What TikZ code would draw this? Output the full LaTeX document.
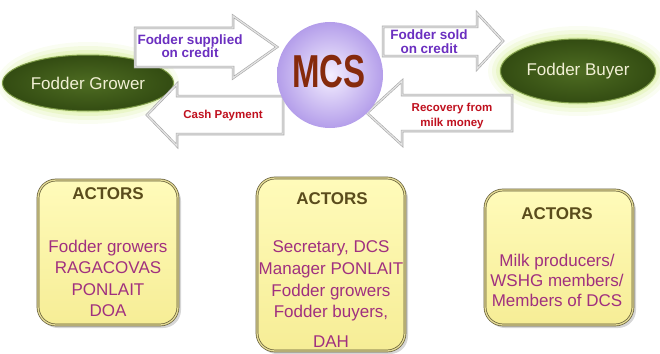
\documentclass[tikz,border=0pt]{standalone}
\usepackage{fontspec}
\setmainfont{Liberation Sans}
\usetikzlibrary{shapes.geometric}

\definecolor{glowc}{HTML}{D6EE96}
\definecolor{oliveIn}{HTML}{4E6C22}
\definecolor{oliveOut}{HTML}{334C12}
\definecolor{oliveRim}{HTML}{7E9C48}
\definecolor{lavIn}{HTML}{F4EFFF}
\definecolor{lavOut}{HTML}{B49EEA}
\definecolor{mcstxt}{HTML}{862A0C}
\definecolor{purpletxt}{HTML}{6B2FC0}
\definecolor{redtxt}{HTML}{C0101E}
\definecolor{magtxt}{HTML}{A0307F}
\definecolor{actorstxt}{HTML}{5A4C1C}
\definecolor{boxTop}{HTML}{FFFBBA}
\definecolor{boxBot}{HTML}{F6ED96}
\definecolor{boxEdge}{HTML}{615A35}
\definecolor{boxInner}{HTML}{E4DB96}

\begin{document}
\begin{tikzpicture}[x=1pt,y=-1pt,
  party/.style={ellipse, shade, inner color=oliveIn, outer color=oliveOut,
    draw=oliveRim, line width=1pt, text=white!88!olive,
    font=\fontsize{17}{17}\selectfont},
  hub/.style={circle, shade, inner color=lavIn, outer color=lavOut,
    minimum size=106pt, inner sep=0pt},
  flow/.style={fill=white, draw=gray!70, line width=0.6pt,
    double=gray!22, double distance=1.3pt, line join=miter},
  flowpurple/.style={anchor=base, text=purpletxt,
    font=\fontsize{13.5}{13.5}\selectfont\bfseries},
  flowred/.style={anchor=base, text=redtxt,
    font=\fontsize{11.5}{11.5}\selectfont\bfseries},
  actorbox/.style={rounded corners=18pt, top color=boxTop, bottom color=boxBot,
    draw=boxEdge, line width=0.7pt, double=boxInner, double distance=1.3pt},
  boxshadow/.style={fill=black, opacity=0.16, rounded corners=18pt},
  title/.style={anchor=base, text=actorstxt,
    font=\fontsize{17}{17}\selectfont\bfseries},
  itm/.style={anchor=base, text=magtxt, font=\fontsize{17}{17}\selectfont}]

\useasboundingbox (0,0) rectangle (660,353);

% soft halos behind the two parties
\foreach \g/\o in {13/0.12, 9/0.2, 5/0.3, 2/0.4} {
  \fill[glowc, opacity=\o] (88,83) ellipse [x radius=78+\g, y radius=28+\g];
  \fill[glowc, opacity=\o] (578,71) ellipse [x radius=77+\g, y radius=32+\g];
}

% parties and the society in between
\node[party, minimum width=156pt, minimum height=56pt] (grower) at (88,83) {Fodder Grower};
\node[party, minimum width=154pt, minimum height=64pt] (buyer) at (578,71) {Fodder Buyer};

% block arrows: supply and payment flows
\draw[flow] (135,28) -- (233,28) -- (233,16) -- (277,47) -- (233,78)
  -- (233,67) -- (135,67) -- cycle;
\draw[flow] (283,96) -- (177,96) -- (177,84) -- (147,115) -- (177,146)
  -- (177,134) -- (283,134) -- cycle;
\draw[flow] (383,27) -- (477,27) -- (477,13) -- (503,41) -- (477,69)
  -- (477,56) -- (383,56) -- cycle;
\draw[flow] (512,95) -- (402,95) -- (402,81) -- (367,113) -- (402,145)
  -- (402,131) -- (512,131) -- cycle;

\node[hub] (mcs) at (330,75) {};
\node[text=mcstxt] (mcslabel) at (329,72)
  {\scalebox{1}[1.4]{\fontsize{33}{33}\selectfont\bfseries MCS}};

% flow labels
\node[flowpurple] (supA) at (190,44.5) {Fodder supplied};
\node[flowpurple] (supB) at (190,57.5) {on credit};
\node[flowred] (cash) at (223,118) {Cash Payment};
\node[flowpurple] (soldA) at (429,40) {Fodder sold};
\node[flowpurple] (soldB) at (429,53) {on credit};
\node[flowred] (recA) at (452,111) {Recovery from};
\node[flowred] (recB) at (452,126) {milk money};

% actor boxes
\fill[boxshadow] (40,183) rectangle (181,328);
\fill[boxshadow] (259,181) rectangle (408,354);
\fill[boxshadow] (487,193) rectangle (636,328);
\draw[actorbox] (38,180) rectangle (178,325);
\draw[actorbox] (257,178) rectangle (405,351);
\draw[actorbox] (485,190) rectangle (633,325);

\node[title] (t1) at (108,199) {ACTORS};
\node[itm] (a1) at (108,252) {Fodder growers};
\node[itm] (a2) at (108,273) {RAGACOVAS};
\node[itm] (a3) at (108,295) {PONLAIT};
\node[itm] (a4) at (108,316) {DOA};

\node[title] (t2) at (332,204) {ACTORS};
\node[itm] (b1) at (331,252) {Secretary, DCS};
\node[itm] (b2) at (331,274) {Manager PONLAIT};
\node[itm] (b3) at (331,296) {Fodder growers};
\node[itm] (b4) at (331,317) {Fodder buyers,};
\node[itm] (b5) at (331,347) {DAH};

\node[title] (t3) at (557,219) {ACTORS};
\node[itm] (c1) at (557,266) {Milk producers/};
\node[itm] (c2) at (557,286) {WSHG members/};
\node[itm] (c3) at (557,306) {Members of DCS};

\end{tikzpicture}
\end{document}
